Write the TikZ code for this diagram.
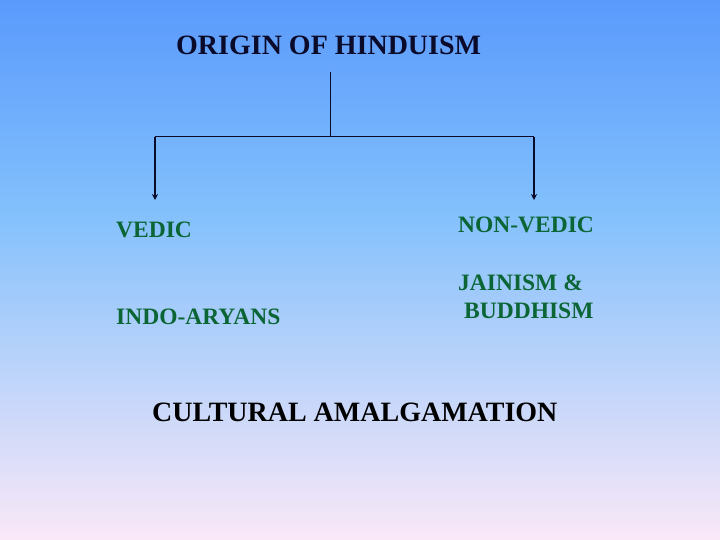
\documentclass[tikz,border=0pt]{standalone}
\usepackage{fontspec}
\setmainfont{Liberation Serif}
\usepackage{xcolor}
\usetikzlibrary{arrows.meta,positioning}

\definecolor{skytop}{HTML}{5A9AFC}
\definecolor{skymid}{HTML}{82C0FC}
\definecolor{skybot}{HTML}{FAE8F8}
\definecolor{inkblue}{HTML}{0A0A2A}
\definecolor{leafgreen}{HTML}{0B6535}

\tikzset{
  title/.style={anchor=base west, inner sep=0pt, text=inkblue, font=\fontsize{28}{32}\selectfont\bfseries},
  branch/.style={anchor=base west, inner sep=0pt, text=leafgreen, font=\fontsize{23.5}{28}\selectfont\bfseries},
  link/.style={draw=inkblue, line width=1pt},
  drop/.style={draw=inkblue, line width=1.6pt, -{Stealth[length=6pt,width=6pt]}}
}

\begin{document}
\begin{tikzpicture}[x=1pt, y=-1pt]
  % --- background ---
  \useasboundingbox (0,0) rectangle (720,540);
  \shade[top color=skytop, bottom color=skymid] (0,0) rectangle (720,211);
  \shade[top color=skymid, bottom color=skybot] (0,210) rectangle (720,540);

  % --- heading ---
  \node[title] (origin) at (176,55) {ORIGIN OF HINDUISM};
  \coordinate (stem) at (330,72);
  \coordinate (fork) at (330,137);
  \coordinate (lcorner) at (155,137);
  \coordinate (rcorner) at (534,137);
  \coordinate (ltip) at (155,200);
  \coordinate (rtip) at (534,200);

  % --- branches ---
  \node[branch] (vedic) at (116,237) {VEDIC};
  \node[branch] (nonvedic) at (458,233) {NON-VEDIC};
  \node[branch] (aryans) at (116,324) {INDO-ARYANS};
  \node[branch] (jain) at (458,290) {JAINISM \&};
  \node[branch] (buddha) at (464,318) {BUDDHISM};
  \node[title, text=black] (amalgam) at (152,421) {CULTURAL AMALGAMATION};

  % --- connectors ---
  \draw[link] (stem) -- (fork);
  \draw[link] (lcorner) -- (rcorner);
  \draw[drop] (lcorner) -- (ltip);
  \draw[drop] (rcorner) -- (rtip);
\end{tikzpicture}
\end{document}
